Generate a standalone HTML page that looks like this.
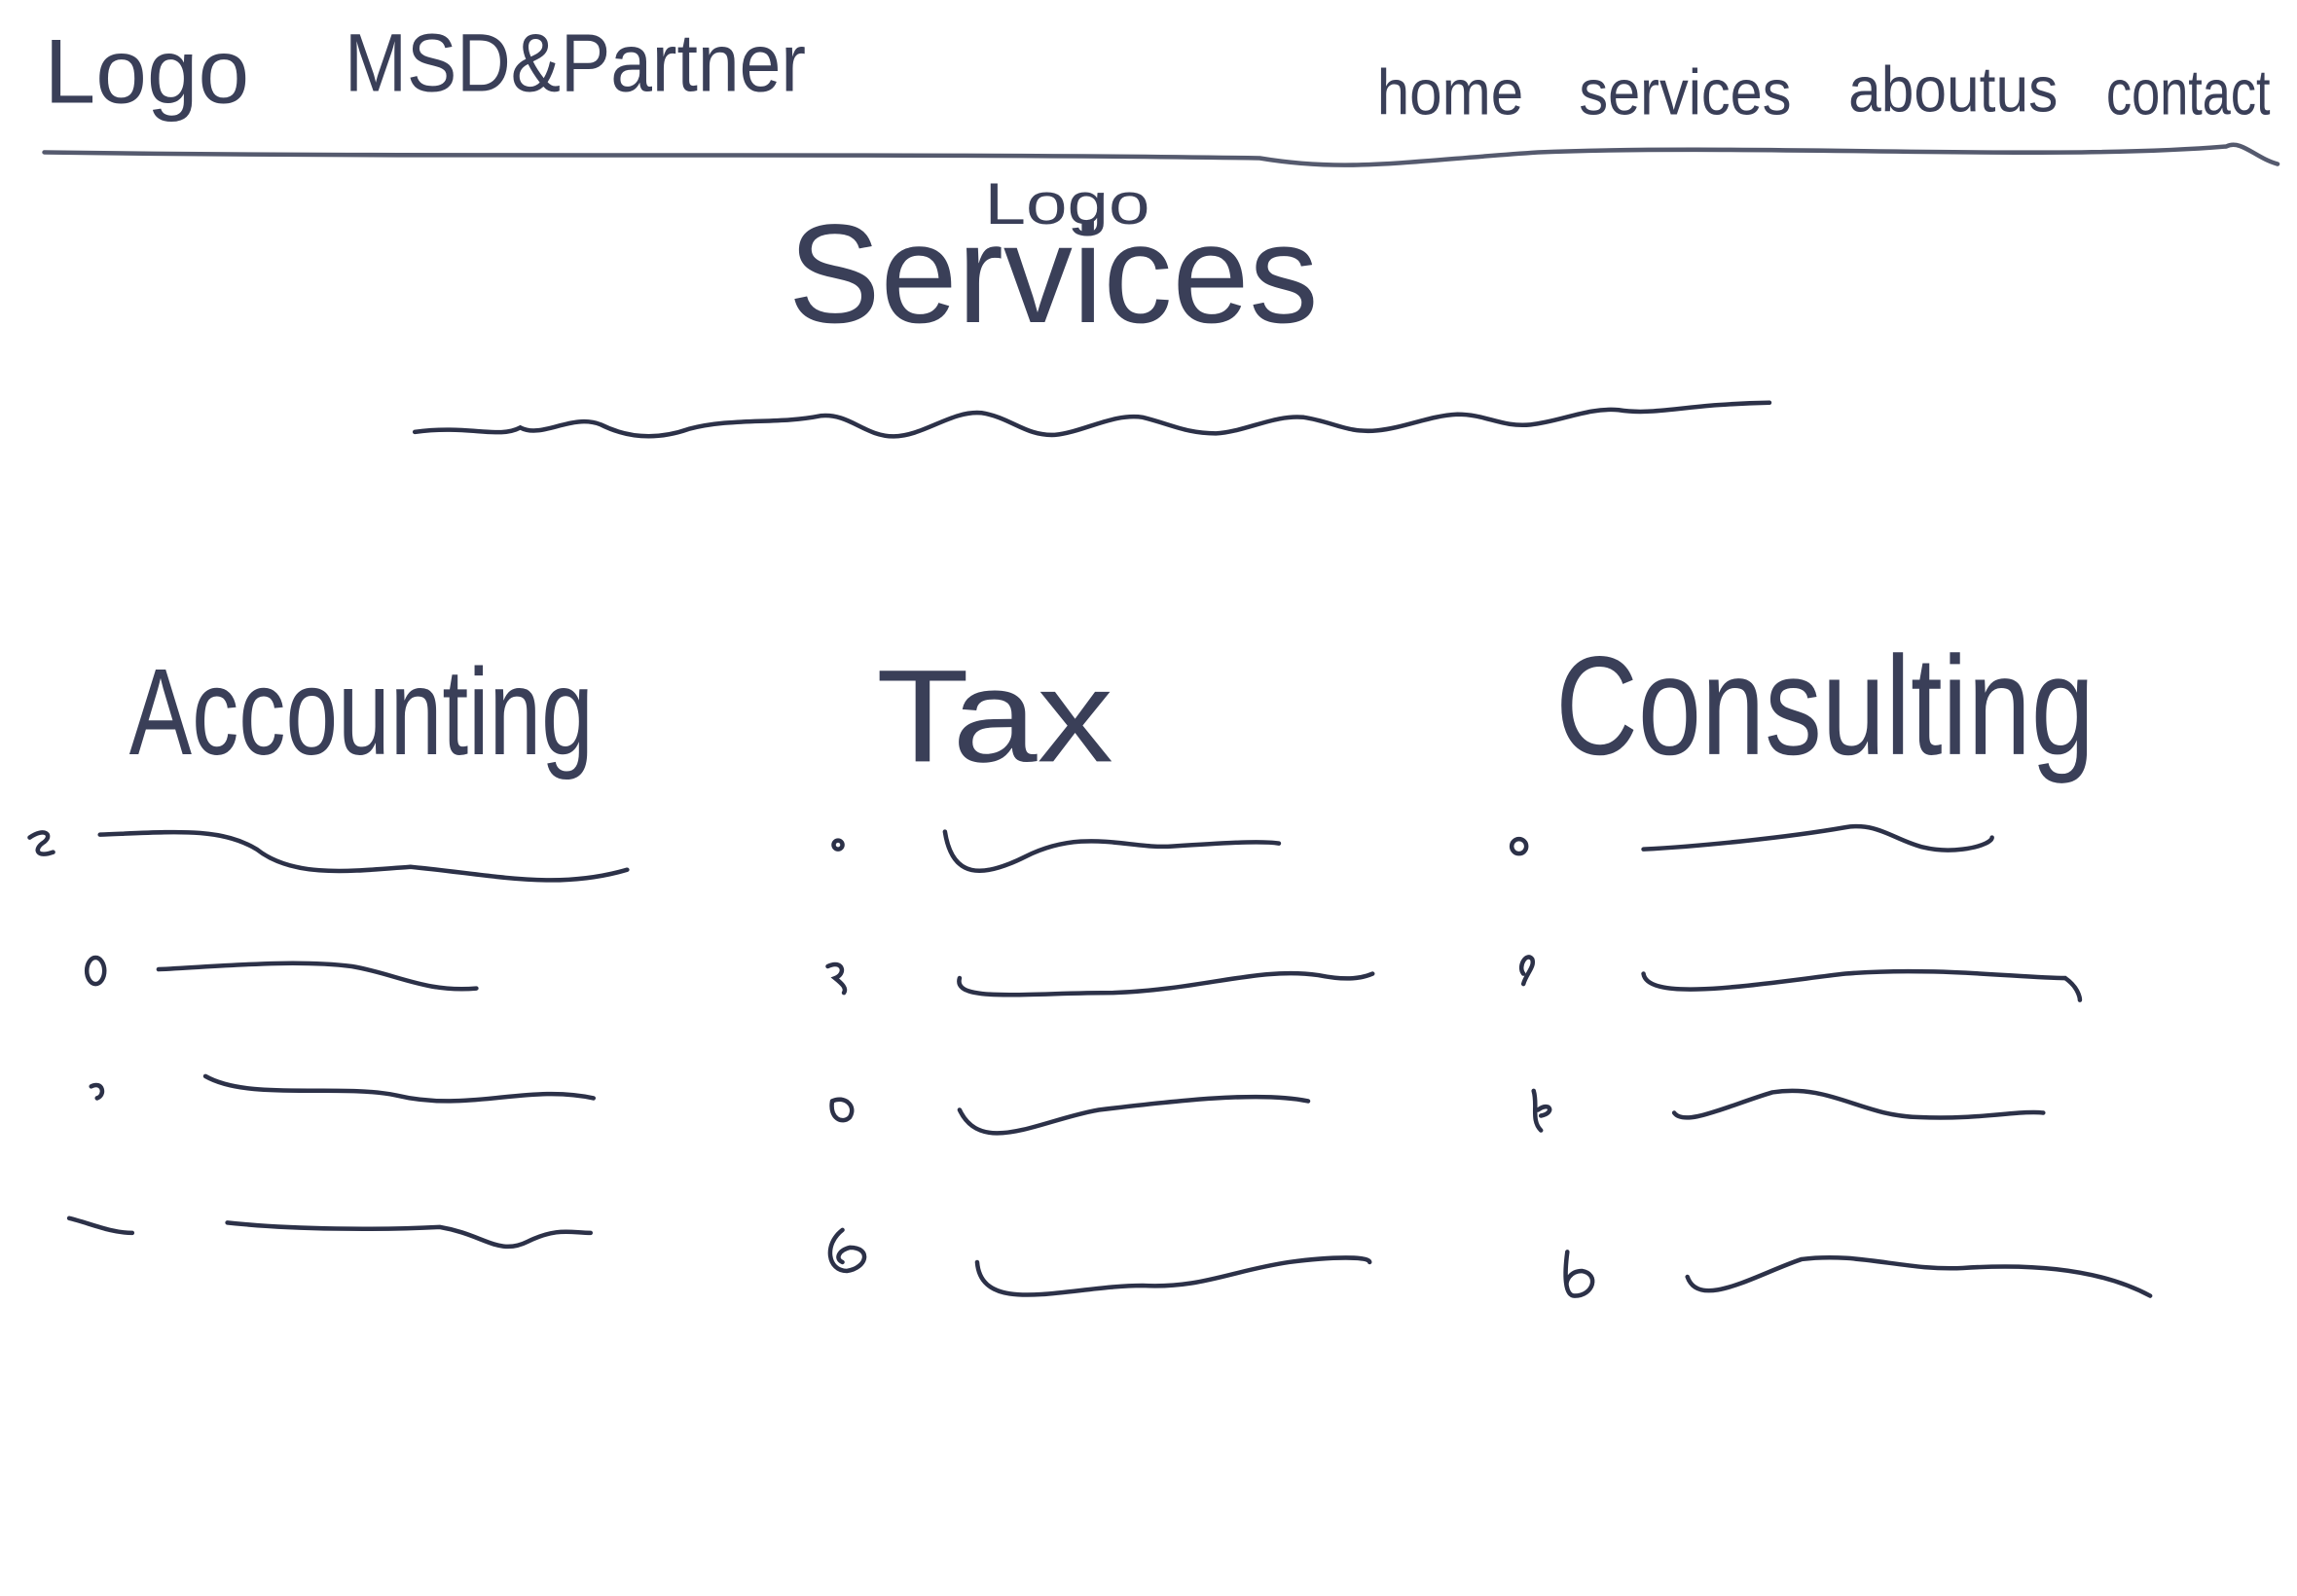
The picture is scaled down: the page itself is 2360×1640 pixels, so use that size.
<!DOCTYPE html>
<html><head><meta charset="utf-8"><style>
html,body{margin:0;padding:0;background:#fff;}
svg{display:block}
text{font-family:"Liberation Sans",sans-serif;fill:#3a3f58;}
</style></head><body>
<svg width="2360" height="1640" viewBox="0 0 1568 1090" xmlns="http://www.w3.org/2000/svg">
<rect width="1568" height="1090" fill="#fff"/>
<g fill="none" stroke="#2c3148" stroke-linecap="round">
<path d="M30 104 C300 108 600 104 860 108 C920 118 960 110 1050 104 C1200 98 1400 110 1520 100 C1530 95 1540 108 1555 112" stroke-width="3" stroke="#555a6e"/>
<path d="M283 295 C320 290 340 300 355 292 C370 300 390 282 410 290 C430 300 450 300 470 293 C500 285 530 290 560 284 C580 282 590 298 610 298 C630 298 650 280 670 282 C690 285 700 298 720 297 C740 295 760 282 780 285 C800 290 810 296 830 296 C850 295 870 283 890 285 C910 288 920 296 940 294 C960 292 975 284 995 283 C1015 283 1025 292 1045 290 C1065 288 1085 278 1105 280 C1130 284 1150 276 1208 275" stroke-width="3"/>
<g stroke-width="3">
<path d="M68 570 C120 568 150 565 175 580 C200 600 240 595 280 592 C340 598 380 608 428 594"/>
<path d="M108 662 C150 660 200 655 240 660 C270 665 290 678 325 675"/>
<path d="M140 735 C170 752 230 740 270 748 C320 760 360 740 405 750"/>
<path d="M155 835 C200 840 260 840 300 838 C330 843 340 858 360 848 C380 838 390 842 403 842"/>
<path d="M645 568 C650 600 670 600 700 585 C740 565 770 580 800 578 C830 576 860 574 873 576"/>
<path d="M655 668 C650 685 700 678 760 678 C820 676 860 660 900 666 C920 670 930 668 937 665"/>
<path d="M655 758 C670 790 710 765 750 758 C800 752 860 745 893 752"/>
<path d="M667 862 C670 900 730 878 780 878 C820 880 840 868 880 862 C910 858 935 858 935 862"/>
<path d="M1122 580 C1160 578 1220 572 1260 565 C1290 560 1300 585 1340 580 C1355 578 1360 574 1360 572"/>
<path d="M1122 665 C1125 685 1200 672 1260 665 C1320 660 1380 668 1410 668 C1420 675 1420 683 1420 683"/>
<path d="M1143 760 C1150 770 1180 755 1210 746 C1250 740 1270 762 1310 763 C1350 765 1380 758 1395 760"/>
<path d="M1152 872 C1160 895 1200 870 1230 860 C1270 855 1300 868 1340 866 C1400 862 1440 870 1468 885"/>
</g>
<g stroke-width="3">
<path d="M20 572 C30 565 36 570 30 575 C22 580 25 586 36 582"/>
<ellipse cx="65" cy="663" rx="6" ry="9"/>
<path d="M62 742 C70 738 72 748 66 750"/>
<path d="M47 832 C60 835 75 842 90 842"/>
<circle cx="572" cy="577" r="3"/>
<path d="M565 660 C575 655 578 665 570 668 C575 672 578 675 576 678"/>
<path d="M568 752 C576 748 585 755 580 763 C575 768 566 764 568 752"/>
<path d="M575 840 C562 850 565 868 578 868 C592 866 595 852 580 852 C572 854 570 860 575 862"/>
<ellipse cx="1037" cy="578" rx="5" ry="5"/>
<path d="M1040 665 C1036 660 1042 650 1046 655 C1048 660 1042 665 1040 672"/>
<path d="M1047 745 C1050 755 1045 765 1052 772 M1050 758 C1058 752 1062 760 1052 762"/>
<path d="M1070 855 C1068 870 1068 885 1075 885 C1088 885 1092 870 1080 868 C1072 868 1068 875 1070 880"/>
</g>
</g>
<text x="30" y="70" font-size="62" textLength="140" lengthAdjust="spacingAndGlyphs">Logo</text>
<text x="235" y="62" font-size="56" textLength="315" lengthAdjust="spacingAndGlyphs">MSD&amp;Partner</text>
<text x="940" y="78" font-size="44" textLength="100" lengthAdjust="spacingAndGlyphs">home</text>
<text x="1078" y="78" font-size="44" textLength="145" lengthAdjust="spacingAndGlyphs">services</text>
<text x="1262" y="76" font-size="44" textLength="143" lengthAdjust="spacingAndGlyphs">aboutus</text>
<text x="1438" y="78" font-size="44" textLength="112" lengthAdjust="spacingAndGlyphs">contact</text>
<text x="672" y="153" font-size="40" textLength="113" lengthAdjust="spacingAndGlyphs">Logo</text>
<text x="538" y="220" font-size="96" textLength="362" lengthAdjust="spacingAndGlyphs">Services</text>
<text x="88" y="515" font-size="84" textLength="317" lengthAdjust="spacingAndGlyphs">Accounting</text>
<text x="598" y="520" font-size="90" textLength="162" lengthAdjust="spacingAndGlyphs">Tax</text>
<text x="1062" y="515" font-size="96" textLength="368" lengthAdjust="spacingAndGlyphs">Consulting</text>
</svg>
</body></html>
